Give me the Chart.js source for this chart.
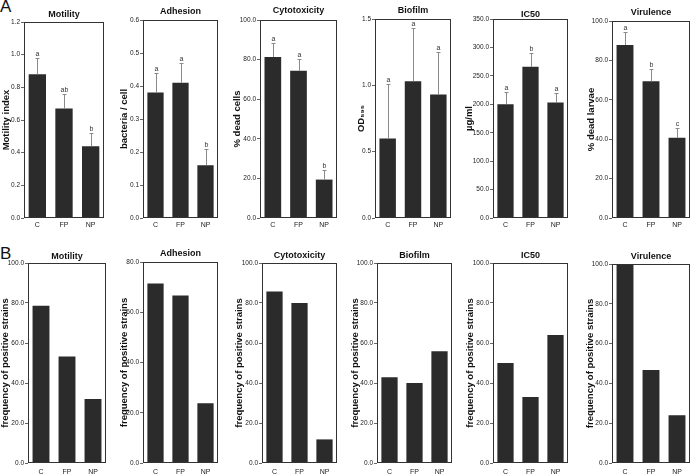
<!DOCTYPE html>
<html lang="en">
<head>
<meta charset="UTF-8" />
<title>Virulence traits</title>
<script src="https://cdn.jsdelivr.net/npm/chart.js"></script>
<style>
  html, body { margin: 0; padding: 0; background: #fff; overflow: hidden; }
  #fig { position: relative; width: 691px; height: 475px; overflow: hidden; font-family: 'Liberation Sans', Arial, sans-serif; }
  .box { position: absolute; }
  .tag { position: absolute; font-size: 17px; color: #111; line-height: 1; }
</style>
</head>
<body>
<div id="fig">
  <div class="tag" style="left:0;top:-2px">A</div>
  <div class="tag" style="left:0;top:245px">B</div>
</div>
<script>
// ---- data ----
const categories = ['C', 'FP', 'NP'];

// row A: means, top of error bar, letters
const titles = ['Motility', 'Adhesion', 'Cytotoxicity', 'Biofilm', 'IC50', 'Virulence'];
const yTitlesA = ['Motility index', 'bacteria / cell', '% dead cells', 'OD\u2085\u2089\u2085', '\u00b5g/ml', '% dead larvae'];

const motilityA = [0.88, 0.67, 0.44];
const motilityErr = [0.98, 0.76, 0.52];
const motilityLetters = ['a', 'ab', 'b'];

const adhesionA = [0.38, 0.41, 0.16];
const adhesionErr = [0.44, 0.47, 0.21];
const adhesionLetters = ['a', 'a', 'b'];

const cytoA = [81.3, 74.4, 19.4];
const cytoErr = [88.2, 80.3, 24.4];
const cytoLetters = ['a', 'a', 'b'];

const biofilmA = [0.60, 1.03, 0.93];
const biofilmErr = [1.01, 1.43, 1.25];
const biofilmLetters = ['a', 'a', 'a'];

const ic50A = [200, 266, 203];
const ic50Err = [222, 290, 220];
const ic50Letters = ['a', 'b', 'a'];

const virulenceA = [87.8, 69.4, 40.7];
const virulenceErr = [94.3, 75.5, 45.6];
const virulenceLetters = ['a', 'b', 'c'];

const yMaxA = [1.2, 0.6, 100, 1.5, 350, 100];
const yStepA = [0.2, 0.1, 20, 0.5, 50, 20];

// row B: frequency of positive strains
const yTitleB = 'frequency of positive strains';
const motilityB = [78.6, 53.3, 32.0];
const adhesionB = [71.4, 66.7, 23.8];
const cytoB = [85.7, 80.0, 11.8];
const biofilmB = [42.9, 40.0, 55.9];
const ic50B = [50.0, 33.0, 64.0];
const virulenceB = [100.0, 46.7, 24.0];

const yMaxB = [100, 80, 100, 100, 100, 100];
const yStepB = [20, 20, 20, 20, 20, 20];

// ---- layout (frame boxes in page pixels) ----
const boxesA = [
  { l: 24, r: 104, t: 22, ty: 14.5, lx: 7 },
  { l: 143, r: 218, t: 20, ty: 11.5, lx: 124.5 },
  { l: 260, r: 337, t: 20, ty: 10.5, lx: 238 },
  { l: 375, r: 451, t: 19, ty: 10.5, lx: 362 },
  { l: 493, r: 568, t: 19, ty: 15, lx: 469.5 },
  { l: 612, r: 690, t: 21, ty: 13, lx: 591.5 }
];
const boxesB = [
  { l: 28, r: 106, t: 263, ty: 256.5, lx: 6 },
  { l: 143, r: 218, t: 262, ty: 253.5, lx: 124.5 },
  { l: 262, r: 337, t: 263, ty: 256, lx: 240 },
  { l: 377, r: 452, t: 263, ty: 256, lx: 355.5 },
  { l: 493, r: 568, t: 263, ty: 256, lx: 471 },
  { l: 612, r: 690, t: 264, ty: 256.5, lx: 591 }
];

Chart.defaults.font.family = "'Liberation Sans', Arial, sans-serif";
Chart.defaults.color = '#222';

// upper error whiskers with significance letters
const errBars = {
  id: 'errbars',
  afterDatasetsDraw(chart, args, opts) {
    if (!opts || !opts.tops) return;
    const ctx = chart.ctx;
    const y = chart.scales.y;
    const meta = chart.getDatasetMeta(0);
    ctx.save();
    meta.data.forEach((bar, i) => {
      const x = Math.round(bar.x) + 0.5;
      const top = Math.round(y.getPixelForValue(opts.tops[i])) + 0.5;
      ctx.strokeStyle = '#8a8a8a';
      ctx.lineWidth = 1;
      ctx.beginPath();
      ctx.moveTo(x, bar.y);
      ctx.lineTo(x, top);
      ctx.moveTo(x - 2, top);
      ctx.lineTo(x + 2, top);
      ctx.stroke();
      ctx.fillStyle = '#333';
      ctx.font = "7px 'Liberation Sans', Arial, sans-serif";
      ctx.textAlign = 'center';
      ctx.textBaseline = 'bottom';
      ctx.fillText(opts.letters[i], x, top - 1);
    });
    ctx.restore();
  }
};

// box round the plot area
const frame = {
  id: 'frame',
  afterDraw(chart) {
    const a = chart.chartArea;
    const ctx = chart.ctx;
    ctx.save();
    ctx.strokeStyle = '#333';
    ctx.lineWidth = 1;
    const l = Math.round(a.left), t = Math.round(a.top);
    const r = Math.round(a.right), b = Math.round(a.bottom);
    ctx.strokeRect(l + 0.5, t + 0.5, r - l - 1, b - t - 1);
    ctx.restore();
  }
};

Chart.register(errBars, frame);

function makePanel(g, canvasTop, bottom, title, yTitle, ySize, values, yMax, yStep, tops, letters, xPad) {
  const lh = ySize * 1.2;
  const left = Math.round(g.lx - lh / 2);
  const yW = g.l - left;
  const width = g.r + 1 - left;
  const height = bottom + 16 - canvasTop;
  let pt = g.ty - canvasTop - 4.5;
  let pb = g.t - canvasTop - pt - 9;
  if (pb < 0) { pt += pb; pb = 0; }

  const div = document.createElement('div');
  div.className = 'box';
  div.style.left = left + 'px';
  div.style.top = canvasTop + 'px';
  div.style.width = width + 'px';
  div.style.height = height + 'px';
  const cv = document.createElement('canvas');
  div.appendChild(cv);
  document.getElementById('fig').appendChild(div);

  new Chart(cv.getContext('2d'), {
    type: 'bar',
    data: {
      labels: categories,
      datasets: [{
        data: values,
        backgroundColor: '#2b2b2b',
        borderWidth: 0,
        barPercentage: 0.65,
        categoryPercentage: 1
      }]
    },
    options: {
      responsive: true,
      maintainAspectRatio: false,
      animation: false,
      layout: { padding: { top: 0, left: 0, right: 1, bottom: 0 } },
      plugins: {
        legend: { display: false },
        tooltip: { enabled: false },
        title: {
          display: true,
          text: title,
          fullSize: false,
          color: '#111',
          font: { size: 9, weight: 'bold', lineHeight: 1 },
          padding: { top: pt, bottom: pb }
        },
        errbars: tops ? { tops: tops, letters: letters } : false
      },
      scales: {
        x: {
          grid: { display: false, drawTicks: false },
          border: { display: false },
          ticks: { font: { size: 7 }, color: '#222', padding: xPad, maxRotation: 0 },
          afterFit: s => { s.height = 16; }
        },
        y: {
          min: 0,
          max: yMax,
          ticks: {
            stepSize: yStep,
            autoSkip: false,
            font: { size: 6.5 },
            color: '#222',
            padding: 1,
            callback: v => v.toFixed(1)
          },
          grid: { drawOnChartArea: false, drawTicks: true, tickLength: 3, color: '#666' },
          border: { display: false },
          title: {
            display: true,
            text: yTitle,
            color: '#111',
            padding: 0,
            font: { size: ySize, weight: 'bold', lineHeight: 1.2 }
          },
          afterFit: s => { s.width = yW; }
        }
      }
    }
  });
}

const valuesA = [motilityA, adhesionA, cytoA, biofilmA, ic50A, virulenceA];
const errA = [motilityErr, adhesionErr, cytoErr, biofilmErr, ic50Err, virulenceErr];
const lettersA = [motilityLetters, adhesionLetters, cytoLetters, biofilmLetters, ic50Letters, virulenceLetters];
const valuesB = [motilityB, adhesionB, cytoB, biofilmB, ic50B, virulenceB];

for (let i = 0; i < 6; i++) {
  makePanel(boxesA[i], 0, 218, titles[i], yTitlesA[i], 9.5, valuesA[i], yMaxA[i], yStepA[i], errA[i], lettersA[i], 3);
  makePanel(boxesB[i], 240, 463, titles[i], yTitleB, 9.5, valuesB[i], yMaxB[i], yStepB[i], null, null, 5);
}
</script>
</body>
</html>
